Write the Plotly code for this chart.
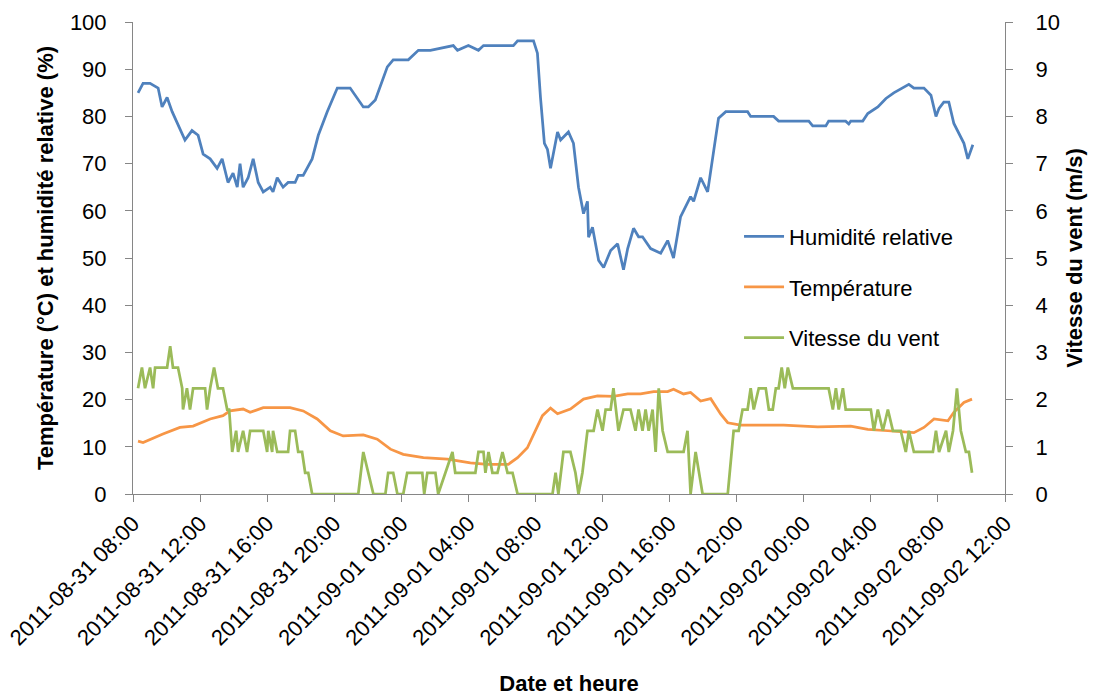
import plotly.graph_objects as go

# Relative humidity (%)
humidity_times = [
    "2011-08-31 08:18", "2011-08-31 08:36", "2011-08-31 09:01", "2011-08-31 09:30", "2011-08-31 09:44",
    "2011-08-31 10:02", "2011-08-31 10:20", "2011-08-31 11:06", "2011-08-31 11:31", "2011-08-31 11:53",
    "2011-08-31 12:11", "2011-08-31 12:36", "2011-08-31 13:01", "2011-08-31 13:19", "2011-08-31 13:40",
    "2011-08-31 13:58", "2011-08-31 14:13", "2011-08-31 14:23", "2011-08-31 14:34", "2011-08-31 14:52",
    "2011-08-31 15:10", "2011-08-31 15:28", "2011-08-31 15:46", "2011-08-31 16:11", "2011-08-31 16:21",
    "2011-08-31 16:36", "2011-08-31 16:57", "2011-08-31 17:15", "2011-08-31 17:40", "2011-08-31 17:51",
    "2011-08-31 18:09", "2011-08-31 18:41", "2011-08-31 19:03", "2011-08-31 19:35", "2011-08-31 20:11",
    "2011-08-31 20:57", "2011-08-31 21:44", "2011-08-31 22:02", "2011-08-31 22:27", "2011-08-31 23:10",
    "2011-08-31 23:31", "2011-09-01 00:25", "2011-09-01 01:01", "2011-09-01 01:44", "2011-09-01 03:06",
    "2011-09-01 03:21", "2011-09-01 04:00", "2011-09-01 04:36", "2011-09-01 04:54", "2011-09-01 06:41",
    "2011-09-01 06:56", "2011-09-01 07:53", "2011-09-01 08:07", "2011-09-01 08:18", "2011-09-01 08:32",
    "2011-09-01 08:43", "2011-09-01 08:54", "2011-09-01 09:19", "2011-09-01 09:30", "2011-09-01 09:58",
    "2011-09-01 10:16", "2011-09-01 10:34", "2011-09-01 10:52", "2011-09-01 11:06", "2011-09-01 11:10",
    "2011-09-01 11:24", "2011-09-01 11:46", "2011-09-01 12:04", "2011-09-01 12:29", "2011-09-01 12:54",
    "2011-09-01 13:15", "2011-09-01 13:30", "2011-09-01 13:51", "2011-09-01 14:09", "2011-09-01 14:23",
    "2011-09-01 14:52", "2011-09-01 15:28", "2011-09-01 15:53", "2011-09-01 16:14", "2011-09-01 16:39",
    "2011-09-01 17:15", "2011-09-01 17:26", "2011-09-01 17:51", "2011-09-01 18:16", "2011-09-01 18:38",
    "2011-09-01 18:55", "2011-09-01 19:21", "2011-09-01 20:39", "2011-09-01 20:50", "2011-09-01 22:12",
    "2011-09-01 22:30", "2011-09-02 00:18", "2011-09-02 00:32", "2011-09-02 01:19", "2011-09-02 01:29",
    "2011-09-02 02:30", "2011-09-02 02:41", "2011-09-02 02:48", "2011-09-02 03:31", "2011-09-02 03:49",
    "2011-09-02 04:25", "2011-09-02 04:54", "2011-09-02 05:22", "2011-09-02 05:55", "2011-09-02 06:16",
    "2011-09-02 06:34", "2011-09-02 07:10", "2011-09-02 07:35", "2011-09-02 07:53", "2011-09-02 08:04",
    "2011-09-02 08:21", "2011-09-02 08:39", "2011-09-02 08:57", "2011-09-02 09:33", "2011-09-02 09:47",
    "2011-09-02 10:05",
]
humidity_values = [
    85, 87, 87, 86, 82,
    84, 81, 75, 77, 76,
    72, 71, 69, 71, 66,
    68, 65, 70, 65, 67,
    71, 66, 64, 65, 64,
    67, 65, 66, 66, 67.5,
    67.5, 71, 76, 81, 86,
    86, 82, 82, 83.5, 90.5,
    92, 92, 94, 94, 95,
    94, 95, 94, 95, 95,
    96, 96, 93.4, 84, 74.3,
    73, 69, 76.7, 75, 76.7,
    74.3, 65, 59.4, 62, 54.4,
    56.5, 49.5, 48, 51.6, 53,
    47.5, 52, 56.3, 54.5, 54.5,
    52, 51, 53.7, 50, 58.7,
    63, 62, 67, 64, 72.8,
    79.6, 81, 81, 80, 80,
    79, 79, 78, 78, 79,
    79, 78.4, 79, 79, 80.6,
    82, 83.8, 85, 86, 86.8,
    86, 86, 84.5, 80, 81.7,
    83, 83, 78.5, 74.3, 71,
    74,
]

# Air temperature (°C)
temperature_times = [
    "2011-08-31 08:18", "2011-08-31 08:36", "2011-08-31 09:47", "2011-08-31 10:48", "2011-08-31 11:35",
    "2011-08-31 12:36", "2011-08-31 13:22", "2011-08-31 13:47", "2011-08-31 14:34", "2011-08-31 14:59",
    "2011-08-31 15:46", "2011-08-31 17:22", "2011-08-31 18:09", "2011-08-31 18:59", "2011-08-31 19:46",
    "2011-08-31 20:32", "2011-08-31 21:44", "2011-08-31 22:34", "2011-08-31 23:21", "2011-09-01 00:07",
    "2011-09-01 01:19", "2011-09-01 02:45", "2011-09-01 04:07", "2011-09-01 05:08", "2011-09-01 06:23",
    "2011-09-01 06:56", "2011-09-01 07:31", "2011-09-01 08:00", "2011-09-01 08:25", "2011-09-01 08:54",
    "2011-09-01 09:19", "2011-09-01 10:05", "2011-09-01 10:52", "2011-09-01 11:42", "2011-09-01 12:39",
    "2011-09-01 13:30", "2011-09-01 14:16", "2011-09-01 15:03", "2011-09-01 15:53", "2011-09-01 16:14",
    "2011-09-01 16:50", "2011-09-01 17:15", "2011-09-01 17:51", "2011-09-01 18:27", "2011-09-01 19:03",
    "2011-09-01 19:28", "2011-09-01 20:14", "2011-09-01 22:48", "2011-09-02 00:50", "2011-09-02 02:48",
    "2011-09-02 03:49", "2011-09-02 05:01", "2011-09-02 06:34", "2011-09-02 07:10", "2011-09-02 07:46",
    "2011-09-02 08:36", "2011-09-02 08:57", "2011-09-02 09:33", "2011-09-02 10:02",
]
temperature_values = [
    11.2, 10.9, 12.7, 14.1, 14.4,
    15.9, 16.6, 17.6, 18.0, 17.3,
    18.3, 18.3, 17.6, 15.9, 13.4,
    12.3, 12.5, 11.6, 9.5, 8.4,
    7.7, 7.4, 6.6, 6.3, 6.3,
    7.7, 9.8, 13.4, 16.6, 18.2,
    17.0, 18.0, 20.1, 20.8, 20.7,
    21.2, 21.2, 21.7, 21.7, 22.2,
    21.2, 21.5, 19.7, 20.2, 16.9,
    15.1, 14.6, 14.6, 14.2, 14.4,
    13.7, 13.4, 13.0, 14.1, 15.9,
    15.5, 17.3, 19.4, 20.1,
]

# Wind speed (m/s)
wind_times = [
    "2011-08-31 08:18", "2011-08-31 08:32", "2011-08-31 08:43", "2011-08-31 09:01", "2011-08-31 09:12",
    "2011-08-31 09:19", "2011-08-31 10:02", "2011-08-31 10:13", "2011-08-31 10:23", "2011-08-31 10:41",
    "2011-08-31 10:56", "2011-08-31 10:59", "2011-08-31 11:13", "2011-08-31 11:24", "2011-08-31 11:35",
    "2011-08-31 12:18", "2011-08-31 12:25", "2011-08-31 12:36", "2011-08-31 12:50", "2011-08-31 13:04",
    "2011-08-31 13:22", "2011-08-31 13:37", "2011-08-31 13:44", "2011-08-31 13:55", "2011-08-31 14:09",
    "2011-08-31 14:16", "2011-08-31 14:34", "2011-08-31 14:48", "2011-08-31 14:59", "2011-08-31 15:46",
    "2011-08-31 16:00", "2011-08-31 16:04", "2011-08-31 16:18", "2011-08-31 16:21", "2011-08-31 16:36",
    "2011-08-31 17:15", "2011-08-31 17:22", "2011-08-31 17:40", "2011-08-31 17:51", "2011-08-31 18:05",
    "2011-08-31 18:16", "2011-08-31 18:27", "2011-08-31 18:41", "2011-08-31 21:26", "2011-08-31 21:44",
    "2011-08-31 22:02", "2011-08-31 22:20", "2011-08-31 23:03", "2011-08-31 23:13", "2011-08-31 23:31",
    "2011-08-31 23:46", "2011-09-01 00:07", "2011-09-01 00:21", "2011-09-01 01:15", "2011-09-01 01:22",
    "2011-09-01 01:33", "2011-09-01 02:02", "2011-09-01 02:12", "2011-09-01 02:38", "2011-09-01 03:03",
    "2011-09-01 03:13", "2011-09-01 04:25", "2011-09-01 04:36", "2011-09-01 04:54", "2011-09-01 05:01",
    "2011-09-01 05:12", "2011-09-01 05:26", "2011-09-01 05:44", "2011-09-01 06:02", "2011-09-01 06:20",
    "2011-09-01 06:38", "2011-09-01 06:56", "2011-09-01 09:01", "2011-09-01 09:12", "2011-09-01 09:22",
    "2011-09-01 09:40", "2011-09-01 10:05", "2011-09-01 10:23", "2011-09-01 10:34", "2011-09-01 10:48",
    "2011-09-01 11:06", "2011-09-01 11:28", "2011-09-01 11:42", "2011-09-01 12:00", "2011-09-01 12:11",
    "2011-09-01 12:29", "2011-09-01 12:39", "2011-09-01 12:57", "2011-09-01 13:15", "2011-09-01 13:40",
    "2011-09-01 13:58", "2011-09-01 14:09", "2011-09-01 14:23", "2011-09-01 14:34", "2011-09-01 14:45",
    "2011-09-01 14:59", "2011-09-01 15:10", "2011-09-01 15:21", "2011-09-01 15:35", "2011-09-01 15:53",
    "2011-09-01 16:50", "2011-09-01 17:04", "2011-09-01 17:15", "2011-09-01 17:33", "2011-09-01 17:58",
    "2011-09-01 19:28", "2011-09-01 19:49", "2011-09-01 20:07", "2011-09-01 20:21", "2011-09-01 20:39",
    "2011-09-01 20:50", "2011-09-01 21:01", "2011-09-01 21:19", "2011-09-01 21:44", "2011-09-01 21:55",
    "2011-09-01 22:09", "2011-09-01 22:20", "2011-09-01 22:30", "2011-09-01 22:41", "2011-09-01 22:52",
    "2011-09-01 23:03", "2011-09-01 23:21", "2011-09-02 01:29", "2011-09-02 01:44", "2011-09-02 01:55",
    "2011-09-02 02:05", "2011-09-02 02:20", "2011-09-02 02:30", "2011-09-02 04:00", "2011-09-02 04:11",
    "2011-09-02 04:25", "2011-09-02 04:43", "2011-09-02 05:01", "2011-09-02 05:19", "2011-09-02 05:47",
    "2011-09-02 06:05", "2011-09-02 06:16", "2011-09-02 06:34", "2011-09-02 07:42", "2011-09-02 07:53",
    "2011-09-02 08:04", "2011-09-02 08:29", "2011-09-02 08:39", "2011-09-02 08:54", "2011-09-02 09:08",
    "2011-09-02 09:22", "2011-09-02 09:40", "2011-09-02 09:51", "2011-09-02 10:02",
]
wind_values = [
    2.24, 2.68, 2.24, 2.68, 2.24,
    2.68, 2.68, 3.13, 2.68, 2.68,
    2.24, 1.79, 2.24, 1.79, 2.24,
    2.24, 1.79, 2.24, 2.68, 2.24,
    2.24, 1.79, 1.79, 0.89, 1.34,
    0.89, 1.34, 0.89, 1.34, 1.34,
    0.89, 1.34, 0.89, 1.34, 0.89,
    0.89, 1.34, 1.34, 0.89, 0.89,
    0.45, 0.45, 0.0, 0.0, 0.89,
    0.45, 0.0, 0.0, 0.45, 0.45,
    0.0, 0.0, 0.45, 0.45, 0.0,
    0.45, 0.45, 0.0, 0.45, 0.89,
    0.45, 0.45, 0.89, 0.89, 0.45,
    0.89, 0.45, 0.45, 0.89, 0.45,
    0.45, 0.0, 0.0, 0.45, 0.0,
    0.89, 0.89, 0.45, 0.0, 0.45,
    1.34, 1.34, 1.79, 1.34, 1.79,
    1.79, 2.24, 1.34, 1.79, 1.79,
    1.34, 1.79, 1.34, 1.79, 1.34,
    1.79, 0.89, 2.24, 1.34, 0.89,
    0.89, 1.34, 0.0, 0.89, 0.0,
    0.0, 1.34, 1.34, 1.79, 1.79,
    2.24, 1.79, 2.24, 2.24, 1.79,
    1.79, 2.24, 2.24, 2.68, 2.24,
    2.68, 2.24, 2.24, 1.79, 2.24,
    1.79, 2.24, 1.79, 1.79, 1.34,
    1.79, 1.34, 1.79, 1.34, 1.34,
    0.89, 1.34, 0.89, 0.89, 1.34,
    0.89, 1.34, 0.89, 1.34, 2.24,
    1.34, 0.89, 0.89, 0.45,
]

series_names = ["Humidité relative", "Température", "Vitesse du vent"]
series_colors = ["#4F81BD", "#F79646", "#9BBB59"]

x_start = "2011-08-31 08:00"
x_end = "2011-09-02 12:00"

axis_grey = "#868686"
font_family = "Liberation Sans, Arial, sans-serif"

fig = go.Figure()
fig.add_trace(go.Scatter(
    x=humidity_times, y=humidity_values, name=series_names[0], mode="lines",
    line=dict(color=series_colors[0], width=2.75), legendgroup="h",
))
fig.add_trace(go.Scatter(
    x=temperature_times, y=temperature_values, name=series_names[1], mode="lines",
    line=dict(color=series_colors[1], width=2.75), legendgroup="t",
))
fig.add_trace(go.Scatter(
    x=wind_times, y=wind_values, name=series_names[2], mode="lines",
    line=dict(color=series_colors[2], width=2.75), legendgroup="w", yaxis="y2",
))

fig.update_layout(
    width=1095, height=698,
    margin=dict(l=133, r=90, t=22, b=204),
    paper_bgcolor="white", plot_bgcolor="white",
    font=dict(family=font_family, size=22, color="#000000"),
    showlegend=True,
    legend=dict(
        x=0.695, y=0.59, xanchor="left", yanchor="top",
        bgcolor="rgba(0,0,0,0)", tracegroupgap=19,
        font=dict(size=22, color="#000000"), itemwidth=40,
    ),
    xaxis=dict(
        type="date", range=[x_start, x_end], automargin=False,
        tick0=x_start, dtick=4 * 3600 * 1000, tickformat="%Y-%m-%d %H:%M",
        tickangle=-45, showgrid=False, zeroline=False,
        showline=True, linecolor=axis_grey, linewidth=1,
        ticks="outside", ticklen=7, tickcolor=axis_grey,
        tickfont=dict(size=22),
        title=dict(text="<b>Date et heure</b>", font=dict(size=22), standoff=26),
    ),
    yaxis=dict(
        range=[0, 100], dtick=10, showgrid=False, zeroline=False, automargin=False,
        showline=True, linecolor=axis_grey, linewidth=1,
        ticks="outside", ticklen=7, tickcolor=axis_grey,
        tickfont=dict(size=22), ticklabelstandoff=14,
        title=dict(text="<b>Température (°C) et humidité relative (%)</b>", font=dict(size=22), standoff=10),
    ),
    yaxis2=dict(
        range=[0, 10], dtick=1, overlaying="y", side="right", automargin=False,
        showgrid=False, zeroline=False,
        showline=True, linecolor=axis_grey, linewidth=1,
        ticks="outside", ticklen=7, tickcolor=axis_grey,
        tickfont=dict(size=22), ticklabelstandoff=18,
        title=dict(text="<b>Vitesse du vent (m/s)</b>", font=dict(size=22), standoff=7),
    ),
)

fig.write_html("out.html")
